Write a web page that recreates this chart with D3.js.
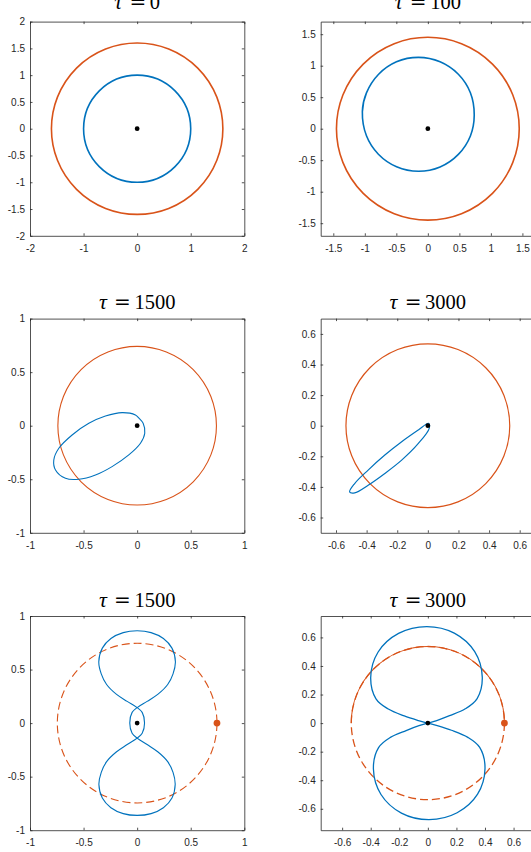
<!DOCTYPE html>
<html>
<head>
<meta charset="utf-8">
<script src="https://cdn.jsdelivr.net/npm/d3@7"></script>
<style>
  body { margin: 0; background: #fff; }
  svg { display: block; }
</style>
</head>
<body>
<svg id="fig" width="531" height="852"></svg>
<script>
// ---- data -----------------------------------------------------------------
const tauValues = ["0", "100", "1500", "3000", "1500", "3000"];
const axisLimits = [2, 1.7, 1, 0.7, 1, 0.75];

// tick values for each axis family
const ticksA = [-2, -1, 0, 1, 2];
const ticksAy = [-2, -1.5, -1, -0.5, 0, 0.5, 1, 1.5, 2];
const ticksB = [-1.5, -1, -0.5, 0, 0.5, 1, 1.5];
const ticksC = [-1, -0.5, 0, 0.5, 1];
const ticksD = [-0.6, -0.4, -0.2, 0, 0.2, 0.4, 0.6];

// radius of the orange reference orbit in each panel
const ringRadius = [1.6, 1.45, 0.74, 0.535, 0.745, 0.536];
const ringDashed = [false, false, false, false, true, true];
// solid part of the dashed orbit in the last panel (degrees, counter-clockwise)
const solidArcDeg = [0, 180];
// orange marker on the orbit (bottom row)
const markerPos = [null, null, null, null, [0.745, 0], [0.536, 0]];

// blue trajectories
const startRadius = 1; // tau = 0: unit circle
const orbit100 = [
  [0.736, 0.217], [0.675, 0.571], [0.484, 0.864], [0.194, 1.062],
  [-0.149, 1.132], [-0.498, 1.062], [-0.785, 0.861], [-0.974, 0.569],
  [-1.039, 0.271], [-0.974, -0.113], [-0.785, -0.405], [-0.496, -0.604],
  [-0.149, -0.676], [0.194, -0.608], [0.484, -0.408], [0.675, -0.115]
];
const orbit1500a = [
  [-0.140, 0.122], [-0.016, 0.100], [0.015, 0.072], [0.056, 0.022], [0.071, -0.071],
  [0.031, -0.164], [-0.078, -0.273], [-0.234, -0.382], [-0.389, -0.460],
  [-0.545, -0.500], [-0.669, -0.491], [-0.762, -0.413], [-0.778, -0.320],
  [-0.731, -0.211], [-0.607, -0.087], [-0.451, 0.022], [-0.296, 0.090]
];
const orbit3000a = [
  [0.004, 0.016], [-0.062, -0.028], [-0.171, -0.105], [-0.281, -0.192],
  [-0.390, -0.290], [-0.478, -0.378], [-0.511, -0.433], [-0.478, -0.439],
  [-0.390, -0.389], [-0.281, -0.312], [-0.171, -0.225], [-0.062, -0.116],
  [0.009, -0.017]
];
const orbit1500b = [
  [0, 0.862], [0.13, 0.845], [0.245, 0.79], [0.325, 0.70], [0.357, 0.573],
  [0.335, 0.46], [0.285, 0.36], [0.195, 0.27], [0.093, 0.203], [0, 0.145],
  [-0.047, 0.100], [-0.069, 0], [-0.047, -0.095], [0, -0.140],
  [0.093, -0.200], [0.195, -0.27], [0.285, -0.36], [0.335, -0.46], [0.355, -0.574],
  [0.325, -0.70], [0.245, -0.79], [0.13, -0.845], [0, -0.862],
  [-0.13, -0.845], [-0.245, -0.79], [-0.325, -0.70], [-0.357, -0.574],
  [-0.335, -0.46], [-0.285, -0.36], [-0.195, -0.27], [-0.093, -0.200], [0, -0.140],
  [0.047, -0.095], [0.069, 0], [0.047, 0.100], [0, 0.145],
  [-0.093, 0.203], [-0.195, 0.27], [-0.285, 0.36], [-0.335, 0.46], [-0.358, 0.573],
  [-0.325, 0.70], [-0.245, 0.79], [-0.13, 0.845]
];
const orbit3000b = [
  [-0.008, 0.676], [0.185, 0.630], [0.328, 0.500], [0.381, 0.322], [0.345, 0.172],
  [0.262, 0.100], [0.152, 0.052], [0.062, 0.018], [0, 0],
  [-0.062, -0.018], [-0.152, -0.052], [-0.262, -0.100], [-0.345, -0.172], [-0.381, -0.322],
  [-0.328, -0.500], [-0.185, -0.630], [0.008, -0.676],
  [0.205, -0.628], [0.348, -0.498], [0.400, -0.320], [0.363, -0.170], [0.280, -0.100],
  [0.165, -0.050], [0.066, -0.018], [0, 0],
  [-0.066, 0.018], [-0.165, 0.050], [-0.280, 0.100], [-0.363, 0.170], [-0.400, 0.320],
  [-0.348, 0.498], [-0.205, 0.628]
];
const orbits = [null, orbit100, orbit1500a, orbit3000a, orbit1500b, orbit3000b];

// ---- layout & style ----------------------------------------------------------
const BLUE = "#0072BD", ORANGE = "#D95319", AXIS = "#262626";
const boxW = 214.3, boxH = 214.2;
const colX = [30, 320.7];
const rowY = [21.6, 318.6, 616];
const xTicks = [ticksA, ticksB, ticksC, ticksD, ticksC, ticksD];
const yTicks = [ticksAy, ticksB, ticksC, ticksD, ticksC, ticksD];
const lineW = [1.6, 1.6, 1.1, 1.2, 1.1, 1.3];

const svg = d3.select("#fig");
svg.append("rect").attr("width", 531).attr("height", 852).attr("fill", "#fff");

const fmt = v => String(v);

tauValues.forEach((tau, i) => {
  const left = colX[i % 2], top = rowY[Math.floor(i / 2)];
  const lim = axisLimits[i];
  const x = d3.scaleLinear().domain([-lim, lim]).range([left, left + boxW]);
  const y = d3.scaleLinear().domain([-lim, lim]).range([top + boxH, top]);
  const g = svg.append("g");

  // axes: inward ticks on all four sides
  const tl = 2.5;
  const styleAxis = sel => {
    sel.selectAll("path.domain").attr("stroke", AXIS).attr("stroke-width", 0.8);
    sel.selectAll(".tick line").attr("stroke", AXIS).attr("stroke-width", 0.8);
    sel.selectAll(".tick text").attr("fill", AXIS)
      .style("font-family", "'Liberation Sans', Arial, Helvetica, sans-serif")
      .style("font-size", "10px");
  };
  g.append("g").attr("transform", `translate(0,${top + boxH})`)
    .call(d3.axisBottom(x).tickValues(xTicks[i]).tickFormat(fmt)
      .tickSizeInner(-tl).tickSizeOuter(0).tickPadding(9))
    .call(styleAxis);
  g.append("g").attr("transform", `translate(0,${top})`)
    .call(d3.axisTop(x).tickValues(xTicks[i]).tickFormat("")
      .tickSizeInner(-tl).tickSizeOuter(0))
    .call(styleAxis);
  g.append("g").attr("transform", `translate(${left},0)`)
    .call(d3.axisLeft(y).tickValues(yTicks[i]).tickFormat(fmt)
      .tickSizeInner(-tl).tickSizeOuter(0).tickPadding(5))
    .call(styleAxis);
  g.append("g").attr("transform", `translate(${left + boxW},0)`)
    .call(d3.axisRight(y).tickValues(yTicks[i]).tickFormat("")
      .tickSizeInner(-tl).tickSizeOuter(0))
    .call(styleAxis);
  g.selectAll(".domain").attr("fill", "none");

  const cx = x(0), cy = y(0);
  const pxR = r => x(r) - x(0);

  // orange reference orbit
  g.append("circle")
    .attr("cx", cx).attr("cy", cy).attr("r", pxR(ringRadius[i]))
    .attr("fill", "none").attr("stroke", ORANGE).attr("stroke-width", lineW[i])
    .attr("stroke-dasharray", ringDashed[i] ? "8,4" : null);

  if (i === 5) {
    const p = d3.path();
    const r = pxR(ringRadius[i]);
    const a0 = solidArcDeg[0] * Math.PI / 180, a1 = solidArcDeg[1] * Math.PI / 180;
    p.moveTo(cx + r * Math.cos(-a0), cy + r * Math.sin(-a0));
    p.arc(cx, cy, r, -a0, -a1, true);
    g.append("path").attr("d", p.toString())
      .attr("fill", "none").attr("stroke", ORANGE).attr("stroke-width", 1.1);
  }

  // blue trajectory
  if (orbits[i] === null) {
    g.append("circle")
      .attr("cx", cx).attr("cy", cy).attr("r", pxR(startRadius))
      .attr("fill", "none").attr("stroke", BLUE).attr("stroke-width", lineW[i]);
  } else {
    const line = d3.line().x(d => x(d[0])).y(d => y(d[1]))
      .curve(d3.curveCatmullRomClosed.alpha(0.5));
    g.append("path").attr("d", line(orbits[i]))
      .attr("fill", "none").attr("stroke", BLUE).attr("stroke-width", lineW[i])
      .attr("stroke-linejoin", "round");
  }

  // central body
  g.append("circle").attr("cx", cx).attr("cy", cy).attr("r", 2.4).attr("fill", "#000");

  // orbiting body marker
  if (markerPos[i]) {
    g.append("circle")
      .attr("cx", x(markerPos[i][0])).attr("cy", y(markerPos[i][1]))
      .attr("r", 3.4).attr("fill", ORANGE);
  }

  // title: tau = value
  const digitW = 10.25;
  const total = 35.5 + digitW * tau.length;
  const tx = left + boxW / 2 - total / 2;
  const base = i < 2 ? 8.5 : top - 9.3;
  const title = g.append("g").attr("fill", "#000");
  title.append("text").attr("x", tx).attr("y", base)
    .style("font-family", "'Liberation Serif', 'DejaVu Serif', serif")
    .style("font-style", "italic").style("font-size", "22px").text("τ");
  title.append("text").attr("x", tx + 23.5).attr("y", base).attr("text-anchor", "middle")
    .style("font-family", "'DejaVu Serif', serif").style("font-size", "20px").text("=");
  title.append("text").attr("x", tx + 35.5).attr("y", base)
    .style("font-family", "'Liberation Serif', serif").style("font-size", "20.5px").text(tau);
});
</script>
</body>
</html>
